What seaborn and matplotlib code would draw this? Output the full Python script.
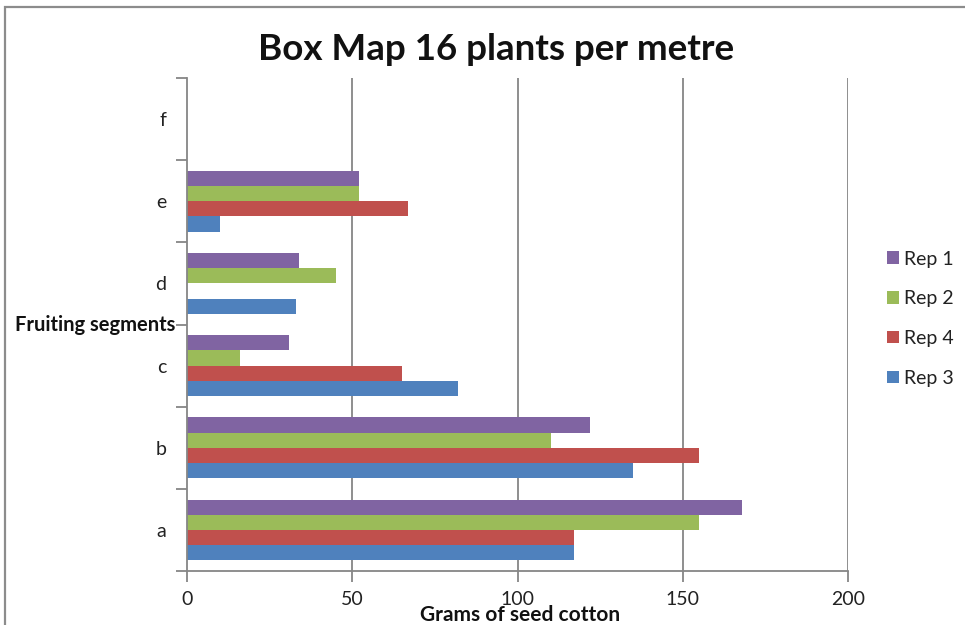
import matplotlib
matplotlib.use("Agg")
import matplotlib.pyplot as plt
from matplotlib.patches import Rectangle
from matplotlib.ticker import FixedLocator, NullFormatter, FixedFormatter
import seaborn as sns
import pandas as pd

# Fruiting segments, listed top to bottom as drawn
segments = ["f", "e", "d", "c", "b", "a"]

# Grams of seed cotton per segment and replicate
rep1 = [0, 52, 34, 31, 122, 168]
rep2 = [0, 52, 45, 16, 110, 155]
rep4 = [0, 67, 0, 65, 155, 117]
rep3 = [0, 10, 33, 82, 135, 117]

series_names = ["Rep 1", "Rep 2", "Rep 4", "Rep 3"]
series_values = [rep1, rep2, rep4, rep3]
series_colors = ["#8064A2", "#9BBB59", "#C0504D", "#4F81BD"]

x_ticks = [0, 50, 100, 150, 200]

rows = []
for name, vals in zip(series_names, series_values):
    for seg, v in zip(segments, vals):
        rows.append({"segment": seg, "rep": name, "grams": v})
df = pd.DataFrame(rows)

sns.set_theme(style="white")
plt.rcParams["font.family"] = ["Lato", "DejaVu Sans"]

W, H = 965, 625
fig = plt.figure(figsize=(W / 100, H / 100), dpi=100)
ax = fig.add_axes([187 / W, 1 - 571 / H, (848 - 187) / W, (571 - 78) / H])

sns.barplot(
    data=df, y="segment", x="grams", hue="rep",
    order=segments, hue_order=series_names, palette=series_colors,
    orient="h", width=0.74, linewidth=0, saturation=1, ax=ax,
)

grey = "#868686"
ax.set_xlim(0, 200)
ax.set_ylim(len(segments) - 0.5, -0.5)
ax.set_xticks(x_ticks)
ax.set_xticklabels([str(t) for t in x_ticks], fontsize=14, color="#222222")

# category boundaries carry the tick marks, labels sit between them
bounds = [i - 0.5 for i in range(len(segments) + 1)]
ax.yaxis.set_major_locator(FixedLocator(bounds))
ax.yaxis.set_major_formatter(NullFormatter())
ax.yaxis.set_minor_locator(FixedLocator(list(range(len(segments)))))
ax.yaxis.set_minor_formatter(FixedFormatter(segments))
ax.tick_params(axis="y", which="minor", length=0, pad=15, labelsize=14, labelcolor="#222222")
ax.tick_params(axis="y", which="major", length=8, width=1.3, color=grey, direction="out", left=True)
ax.tick_params(axis="x", length=8, width=1.3, color=grey, direction="out", bottom=True, pad=6.5)

for x in x_ticks[1:]:
    ax.axvline(x, color=grey, lw=1.3, zorder=0)

for s in ["top", "right"]:
    ax.spines[s].set_visible(False)
for s in ["left", "bottom"]:
    ax.spines[s].set_color(grey)
    ax.spines[s].set_linewidth(1.3)

ax.set_xlabel("")
ax.set_ylabel("")

sns.move_legend(
    ax, "upper left", bbox_to_anchor=(869 / W, 1 - 233 / H),
    bbox_transform=fig.transFigure, frameon=False, title=None,
    fontsize=14, handlelength=0.62, handleheight=0.62, handletextpad=0.3,
    labelspacing=1.17,
)
for t in ax.get_legend().get_texts():
    t.set_color("#222222")

fig.text(496 / W, 1 - 50 / H, "Box Map 16 plants per metre", ha="center", va="center",
         fontsize=26.5, fontweight="bold", color="#111111")
fig.text(520 / W, 1 - 615 / H, "Grams of seed cotton", ha="center", va="center",
         fontsize=15, fontweight="bold", color="#111111")
fig.text(15 / W, 1 - 325 / H, "Fruiting segments", ha="left", va="center",
         fontsize=14.5, fontweight="bold", color="#111111")

# outer chart border
fig.add_artist(Rectangle((4.5 / W, -0.2), 1.2, 1.2 - 6.5 / H, transform=fig.transFigure,
                         fill=False, edgecolor="#8c8c8c", lw=1.6))

fig.savefig("out.png", dpi=100)
